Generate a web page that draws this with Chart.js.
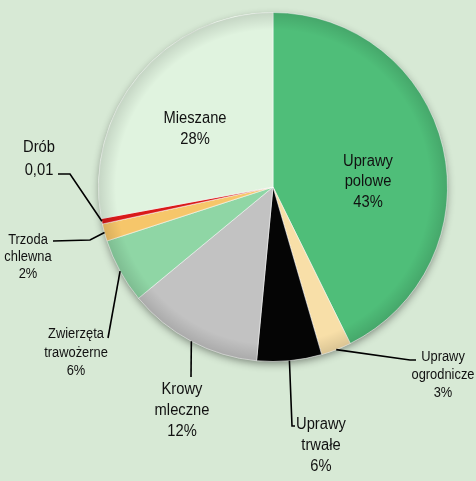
<!DOCTYPE html>
<html>
<head>
<meta charset="utf-8">
<script src="https://cdn.jsdelivr.net/npm/chart.js@4/dist/chart.umd.min.js"></script>
<style>
  html, body { margin: 0; padding: 0; background: #d7e9d5; }
  #wrap { width: 476px; height: 481px; }
</style>
</head>
<body>
<div id="wrap"><canvas id="chart" width="476" height="481"></canvas></div>
<script>
// udział typów gospodarstw (%)
const categories = ['Uprawy polowe', 'Uprawy ogrodnicze', 'Uprawy trwałe', 'Krowy mleczne',
  'Zwierzęta trawożerne', 'Trzoda chlewna', 'Drób', 'Mieszane'];
const shares = [42.7, 2.8, 6.0, 12.5, 6.0, 1.6, 0.5, 27.9];
const shareLabels = ['43%', '3%', '6%', '12%', '6%', '2%', '0,01', '28%'];
const labelLines = [
  ['Uprawy', 'polowe'], ['Uprawy', 'ogrodnicze'], ['Uprawy', 'trwałe'], ['Krowy', 'mleczne'],
  ['Zwierzęta', 'trawożerne'], ['Trzoda', 'chlewna'], ['Drób'], ['Mieszane']
];
const colors = ['#4fbe79', '#f8dfa8', '#050505', '#c2c2c2', '#8fd6a5', '#f6c66a', '#d91a1a', '#e0f3df'];

// rozmieszczenie etykiet względem środka koła: tekst (tx,ty), łamanie linii odnośnika
const labelPos = [
  { tx: 95, ty: -5, size: 16, lh: 20.5 },
  { tx: 170, ty: 188, size: 14, lh: 18, path: [[137, 173], [143, 173]] },
  { tx: 48, ty: 259, size: 16, lh: 21, path: [[19, 239], [22, 239]] },
  { tx: -91, ty: 224, size: 16, lh: 21, path: [[-82, 190]] },
  { tx: -197, ty: 166, size: 14, lh: 18.5, path: [[-165, 151]] },
  { tx: -245, ty: 70, size: 14, lh: 17, path: [[-183, 53], [-220, 54]] },
  { tx: -234, ty: -27.5, size: 16, lh: 23, path: [[-203, -13], [-215, -13]] },
  { tx: -78, ty: -57.5, size: 16, lh: 21 }
];

const pieShadow = {
  id: 'pieShadow',
  beforeDatasetsDraw(chart) {
    const arc = chart.getDatasetMeta(0).data[0];
    const ctx = chart.ctx;
    ctx.save();
    ctx.shadowColor = 'rgba(0,0,0,0.45)';
    ctx.shadowBlur = 9;
    ctx.shadowOffsetY = 3;
    ctx.beginPath();
    ctx.arc(arc.x, arc.y, arc.outerRadius - 1, 0, Math.PI * 2);
    ctx.fillStyle = '#999';
    ctx.fill();
    ctx.restore();
  },
  afterDatasetsDraw(chart) {
    // ciemniejszy brzeg jak w wykresie 3D
    const ctx = chart.ctx;
    chart.getDatasetMeta(0).data.forEach((arc, i) => {
      const g = ctx.createRadialGradient(arc.x, arc.y, arc.outerRadius * 0.9, arc.x, arc.y, arc.outerRadius);
      g.addColorStop(0, 'rgba(0,0,0,0)');
      g.addColorStop(1, i === 2 ? 'rgba(0,0,0,0)' : 'rgba(0,0,0,0.12)');
      ctx.save();
      ctx.beginPath();
      ctx.moveTo(arc.x, arc.y);
      ctx.arc(arc.x, arc.y, arc.outerRadius, arc.startAngle, arc.endAngle);
      ctx.closePath();
      ctx.fillStyle = g;
      ctx.fill();
      ctx.restore();
    });
  }
};

const pieLabels = {
  id: 'pieLabels',
  afterDraw(chart) {
    const ctx = chart.ctx;
    const meta = chart.getDatasetMeta(0);
    meta.data.forEach((arc, i) => {
      const p = labelPos[i];
      const cx = arc.x, cy = arc.y;
      if (p.path) {
        const mid = (arc.startAngle + arc.endAngle) / 2;
        ctx.save();
        ctx.strokeStyle = '#000';
        ctx.lineWidth = 1.6;
        ctx.beginPath();
        ctx.moveTo(cx + Math.cos(mid) * arc.outerRadius, cy + Math.sin(mid) * arc.outerRadius);
        p.path.forEach(([dx, dy]) => ctx.lineTo(cx + dx, cy + dy));
        ctx.stroke();
        ctx.restore();
      }
      const lines = labelLines[i].concat([shareLabels[i]]);
      ctx.save();
      ctx.font = p.size + 'px "Liberation Sans", Arial, sans-serif';
      ctx.fillStyle = '#111';
      ctx.textAlign = 'center';
      ctx.textBaseline = 'middle';
      const y0 = cy + p.ty - (lines.length - 1) * p.lh / 2;
      // tekst lekko zwężony, jak w oryginale
      ctx.translate(cx + p.tx, 0);
      ctx.scale(0.92, 1);
      lines.forEach((t, k) => ctx.fillText(t, 0, y0 + k * p.lh));
      ctx.restore();
    });
  }
};

new Chart(document.getElementById('chart'), {
  type: 'pie',
  data: {
    labels: categories,
    datasets: [{
      data: shares,
      backgroundColor: colors,
      borderColor: 'rgba(255,255,255,0.55)',
      borderWidth: 1
    }]
  },
  options: {
    responsive: false,
    animation: false,
    layout: { padding: { left: 98, right: 28, top: 12, bottom: 119 } },
    plugins: { legend: { display: false }, tooltip: { enabled: false } }
  },
  plugins: [pieShadow, pieLabels]
});
</script>
</body>
</html>
